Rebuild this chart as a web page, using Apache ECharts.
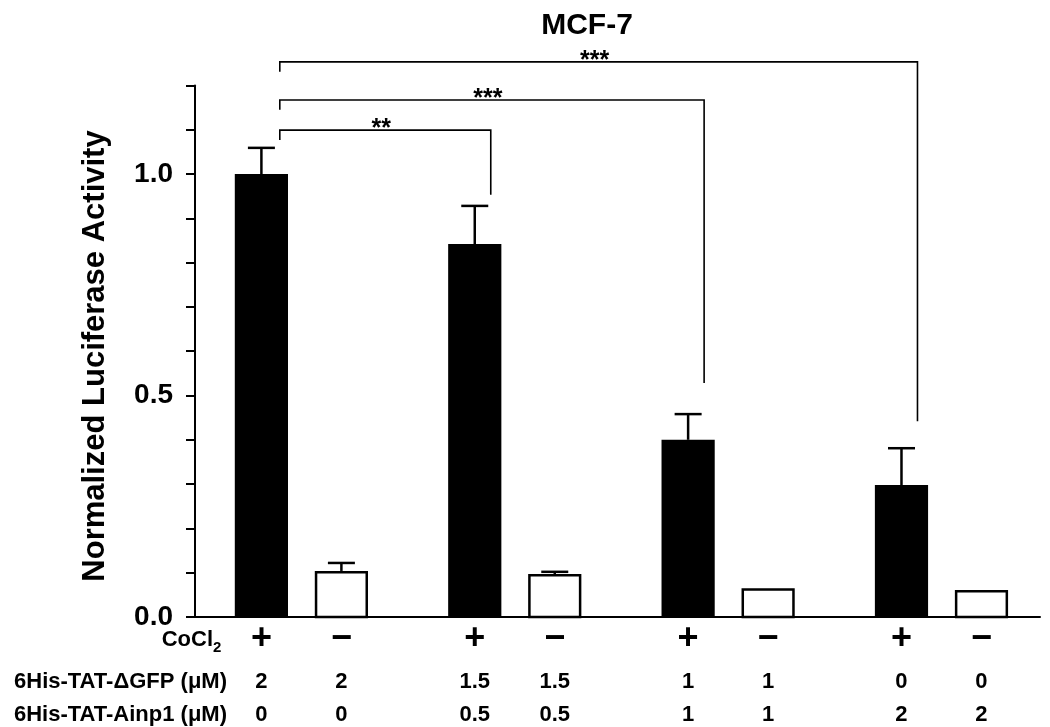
<!DOCTYPE html>
<html>
<head>
<meta charset="utf-8">
<script src="https://cdn.jsdelivr.net/npm/echarts@6/dist/echarts.min.js"></script>
<style>html,body{margin:0;padding:0;background:#fff;}#c{width:1050px;height:727px;}</style>
</head>
<body>
<div id="c"></div>
<script>
// ---- data ----
const cocl2 = ['+', '\u2212', '+', '\u2212', '+', '\u2212', '+', '\u2212'];
const gfpDose = ['2', '2', '1.5', '1.5', '1', '1', '0', '0'];
const ainpDose = ['0', '0', '0.5', '0.5', '1', '1', '2', '2'];
const values = [1.0, 0.104, 0.842, 0.097, 0.400, 0.065, 0.298, 0.061];
const errors = [0.059, 0.018, 0.086, 0.005, 0.058, 0, 0.083, 0];
const yTickValues = [0, 0.5, 1.0];
const yTickLabels = ['0.0', '0.5', '1.0'];
const rowLabels = ['CoCl', '6His-TAT-\u0394GFP (\u03bcM)', '6His-TAT-Ainp1 (\u03bcM)'];
const sigFrom = [0, 0, 0];
const sigTo = [2, 4, 6];
const sigLevel = [1.099, 1.167, 1.253];
const sigLegEnd = [0.953, 0.528, 0.442];
const sigText = ['**', '***', '***'];
const yTitle = 'Normalized Luciferase Activity';
const chartTitle = 'MCF-7';

// ---- layout helpers ----
const FONT = '"Liberation Sans", Arial, sans-serif';
function xPos(i) { return 0.83 + Math.floor(i / 2) * 2.667 + (i % 2); }

const barData = values.map((v, i) => [xPos(i), v, errors[i], i]);
const labelData = values.map((v, i) => [xPos(i), 0, i]);
const sigData = sigText.map((t, k) => [xPos(sigFrom[k]) + 0.23, xPos(sigTo[k]) + 0.2, sigLevel[k], sigLevel[k] - 0.022, sigLegEnd[k], k]);

const chart = echarts.init(document.getElementById('c'), null, {renderer: 'canvas'});
const option = {
  animation: false,
  backgroundColor: '#fff',
  title: {
    text: chartTitle, left: 582, top: 6, textAlign: 'center',
    textStyle: {fontFamily: FONT, fontWeight: 'bold', fontSize: 30, color: '#000'}
  },
  grid: {left: 195, right: 10, top: 85.4, bottom: 110},
  xAxis: {
    type: 'value', min: 0, max: 10.5625,
    axisLine: {show: true, onZero: false, lineStyle: {color: '#000', width: 2}},
    axisTick: {show: false}, axisLabel: {show: false}, splitLine: {show: false}
  },
  yAxis: {
    type: 'value', min: 0, max: 1.2, interval: 0.1,
    axisLine: {show: true, lineStyle: {color: '#000', width: 2}},
    axisTick: {show: true, inside: false, length: 9, lineStyle: {color: '#000', width: 2}},
    axisLabel: {
      margin: 22, fontFamily: FONT, fontWeight: 'bold', fontSize: 28, color: '#000',
      formatter: function (v) {
        for (let k = 0; k < yTickValues.length; k++) {
          if (Math.abs(v - yTickValues[k]) < 1e-6) return yTickLabels[k];
        }
        return '';
      }
    },
    splitLine: {show: false}
  },
  graphic: [
    {type: 'text', x: 95, y: 356, rotation: Math.PI / 2,
      style: {text: yTitle, font: 'bold 31px ' + FONT, fill: '#000', align: 'center', verticalAlign: 'middle'}},
    {type: 'text', x: 213, y: 640,
      style: {text: rowLabels[0], font: 'bold 22px ' + FONT, fill: '#000', align: 'right', verticalAlign: 'middle'}},
    {type: 'text', x: 213, y: 648,
      style: {text: '2', font: 'bold 15px ' + FONT, fill: '#000', align: 'left', verticalAlign: 'middle'}},
    {type: 'text', x: 227, y: 682,
      style: {text: rowLabels[1], font: 'bold 22px ' + FONT, fill: '#000', align: 'right', verticalAlign: 'middle'}},
    {type: 'text', x: 227, y: 715,
      style: {text: rowLabels[2], font: 'bold 22px ' + FONT, fill: '#000', align: 'right', verticalAlign: 'middle'}}
  ],
  series: [
    {
      type: 'custom', name: 'bars', data: barData, clip: false,
      renderItem: function (params, api) {
        const x = api.value(0), v = api.value(1), e = api.value(2), idx = api.value(3);
        const top = api.coord([x, v]);
        const base = api.coord([x, 0]);
        const w = api.size([0.665, 0])[0];
        const black = idx % 2 === 0;
        const children = [];
        if (black) {
          children.push({type: 'rect', shape: {x: top[0] - w / 2, y: top[1], width: w, height: base[1] - top[1]},
            style: {fill: '#000'}});
        } else {
          children.push({type: 'rect', shape: {x: top[0] - w / 2 + 1.25, y: top[1] + 1.25, width: w - 2.5, height: base[1] - top[1] - 1.25},
            style: {fill: '#fff', stroke: '#000', lineWidth: 2.5}});
        }
        if (e > 0) {
          const et = api.coord([x, v + e]);
          children.push({type: 'line', shape: {x1: top[0], y1: top[1], x2: top[0], y2: et[1]},
            style: {stroke: '#000', lineWidth: 2.5}});
          children.push({type: 'line', shape: {x1: top[0] - 13.5, y1: et[1], x2: top[0] + 13.5, y2: et[1]},
            style: {stroke: '#000', lineWidth: 2.5}});
        }
        return {type: 'group', children: children};
      },
      z: 2
    },
    {
      type: 'custom', name: 'labels', data: labelData, clip: false,
      renderItem: function (params, api) {
        const x = api.value(0), idx = api.value(2);
        const p = api.coord([x, 0]);
        return {type: 'group', children: [
          {type: 'text', x: p[0], y: p[1] + 22, style: {text: cocl2[idx], font: 'bold 36px ' + FONT, fill: '#000', align: 'center', verticalAlign: 'middle'}},
          {type: 'text', x: p[0], y: p[1] + 65, style: {text: gfpDose[idx], font: 'bold 22px ' + FONT, fill: '#000', align: 'center', verticalAlign: 'middle'}},
          {type: 'text', x: p[0], y: p[1] + 98, style: {text: ainpDose[idx], font: 'bold 22px ' + FONT, fill: '#000', align: 'center', verticalAlign: 'middle'}}
        ]};
      }
    },
    {
      type: 'custom', name: 'sig', data: sigData, clip: false,
      renderItem: function (params, api) {
        const xl = api.value(0), xr = api.value(1), yv = api.value(2), yl = api.value(3), yr = api.value(4), k = api.value(5);
        const a = api.coord([xl, yl]), b = api.coord([xl, yv]), c = api.coord([xr, yv]), d = api.coord([xr, yr]);
        return {type: 'group', children: [
          {type: 'polyline', shape: {points: [a, b, c, d]}, style: {stroke: '#000', lineWidth: 1.6, fill: null}},
          {type: 'text', x: (b[0] + c[0]) / 2 - 4, y: b[1] - 1, style: {text: sigText[k], font: 'bold 25px ' + FONT, fill: '#000', align: 'center', verticalAlign: 'middle'}}
        ]};
      }
    }
  ]
};
chart.setOption(option);
</script>
</body>
</html>
